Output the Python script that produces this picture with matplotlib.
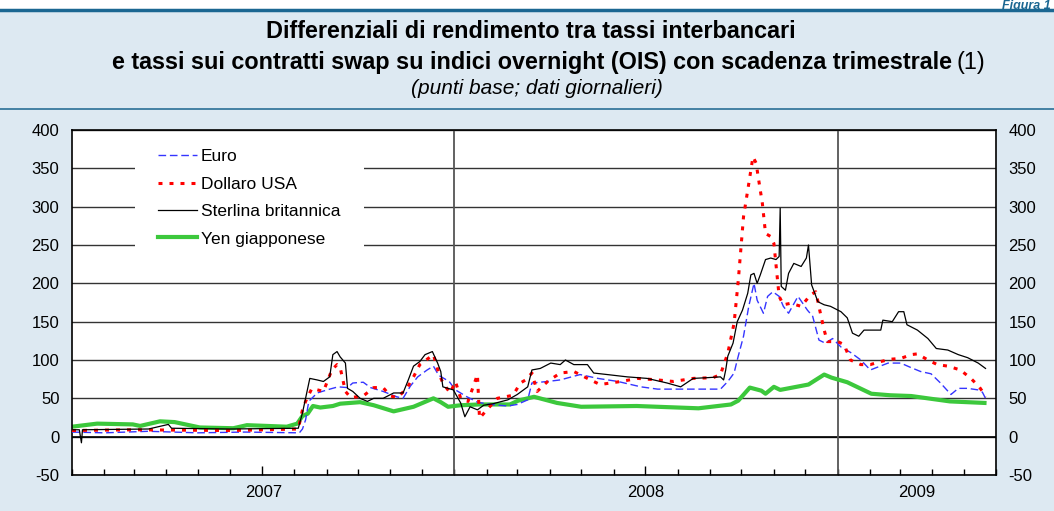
import matplotlib
matplotlib.use('Agg')
import matplotlib.pyplot as plt
import matplotlib.dates as mdates
from matplotlib.patches import Rectangle
from matplotlib.lines import Line2D
import pandas as pd

plt.rcParams['font.family'] = ['Liberation Sans', 'DejaVu Sans']
plt.rcParams['axes.unicode_minus'] = False

# dati (punti base)
euro_dates = ['2007-01-01', '2007-02-01', '2007-03-15', '2007-05-01', '2007-06-15', '2007-08-06',
              '2007-08-09', '2007-08-12', '2007-08-15', '2007-08-23', '2007-09-04', '2007-09-12',
              '2007-09-21', '2007-09-26', '2007-10-06', '2007-10-13', '2007-10-25', '2007-11-07',
              '2007-11-13', '2007-11-20', '2007-11-27', '2007-12-06', '2007-12-12', '2007-12-17',
              '2007-12-27', '2008-01-02', '2008-01-13', '2008-01-23', '2008-02-04', '2008-02-21',
              '2008-03-01', '2008-03-11', '2008-03-15', '2008-03-30', '2008-04-11', '2008-04-30',
              '2008-05-17', '2008-06-05', '2008-06-27', '2008-07-13', '2008-09-11', '2008-09-18',
              '2008-09-24', '2008-09-27', '2008-10-03', '2008-10-08', '2008-10-13', '2008-10-16',
              '2008-10-22', '2008-10-26', '2008-10-31', '2008-11-06', '2008-11-10', '2008-11-15',
              '2008-11-24', '2008-12-03', '2008-12-08', '2008-12-14', '2008-12-20', '2008-12-27',
              '2009-01-04', '2009-01-13', '2009-01-23', '2009-02-01', '2009-02-18', '2009-03-02',
              '2009-03-12', '2009-03-21', '2009-03-31', '2009-04-09', '2009-04-19', '2009-04-26',
              '2009-05-05', '2009-05-15', '2009-05-19', '2009-05-22']
euro_vals = [6, 5, 7, 5, 6, 5,
             10, 22, 46, 57, 62, 65,
             64, 70, 71, 64, 59, 52,
             50, 66, 78, 87, 92, 80,
             72, 61, 52, 45, 42, 40,
             42, 48, 70, 72, 74, 81,
             76, 72, 65, 62, 62, 72,
             83, 100, 131, 170, 200, 178,
             161, 183, 189, 183, 170, 161,
             183, 165, 157, 126, 122, 128,
             117, 110, 100, 87, 96, 96,
             90, 85, 82, 70, 55, 63,
             63, 61, 58, 50]

dollaro_dates = ['2007-01-01', '2007-03-01', '2007-06-01', '2007-08-05', '2007-08-09', '2007-08-12',
                 '2007-08-18', '2007-08-29', '2007-09-06', '2007-09-11', '2007-09-14', '2007-09-19',
                 '2007-09-24', '2007-10-06', '2007-10-16', '2007-10-25', '2007-11-01', '2007-11-08',
                 '2007-11-17', '2007-11-23', '2007-11-29', '2007-12-07', '2007-12-12', '2007-12-17',
                 '2007-12-21', '2007-12-28', '2008-01-02', '2008-01-07', '2008-01-14', '2008-01-23',
                 '2008-01-25', '2008-02-01', '2008-02-11', '2008-02-26', '2008-03-04', '2008-03-09',
                 '2008-03-15', '2008-03-20', '2008-03-30', '2008-04-11', '2008-04-24', '2008-05-07',
                 '2008-05-19', '2008-06-08', '2008-06-24', '2008-07-13', '2008-07-28', '2008-08-16',
                 '2008-09-04', '2008-09-11', '2008-09-18', '2008-09-24', '2008-09-28', '2008-10-03',
                 '2008-10-08', '2008-10-12', '2008-10-15', '2008-10-17', '2008-10-21', '2008-10-24',
                 '2008-10-29', '2008-11-01', '2008-11-06', '2008-11-10', '2008-11-17', '2008-11-27',
                 '2008-12-06', '2008-12-11', '2008-12-16', '2008-12-19', '2008-12-22', '2009-01-01',
                 '2009-01-07', '2009-01-13', '2009-01-23', '2009-02-01', '2009-02-11', '2009-02-20',
                 '2009-03-02', '2009-03-12', '2009-03-18', '2009-03-28', '2009-04-06', '2009-04-16',
                 '2009-04-28', '2009-05-08', '2009-05-16', '2009-05-20', '2009-05-22']
dollaro_vals = [8, 9, 8, 10, 35, 46,
                63, 59, 87, 94, 90, 59,
                51, 53, 64, 64, 53, 51,
                64, 78, 94, 102, 107, 83,
                70, 57, 72, 50, 46, 81,
                24, 35, 50, 54, 70, 74,
                83, 59, 72, 83, 85, 76,
                68, 72, 76, 74, 72, 76,
                77, 81, 109, 148, 204, 287,
                330, 365, 357, 339, 304, 265,
                261, 252, 183, 172, 174, 170,
                185, 189, 157, 139, 124, 124,
                120, 100, 94, 94, 98, 101,
                102, 107, 108, 100, 94, 92,
                87, 76, 65, 57, 52]

sterlina_dates = ['2007-01-01', '2007-01-08', '2007-01-10', '2007-01-11', '2007-03-15', '2007-04-03',
                  '2007-04-06', '2007-06-01', '2007-08-05', '2007-08-09', '2007-08-16', '2007-08-23',
                  '2007-08-29', '2007-09-04', '2007-09-07', '2007-09-11', '2007-09-14', '2007-09-19',
                  '2007-09-21', '2007-09-26', '2007-10-03', '2007-10-10', '2007-10-16', '2007-10-25',
                  '2007-11-04', '2007-11-13', '2007-11-18', '2007-11-23', '2007-11-29', '2007-12-04',
                  '2007-12-11', '2007-12-16', '2007-12-19', '2007-12-21', '2007-12-31', '2008-01-07',
                  '2008-01-11', '2008-01-16', '2008-01-23', '2008-01-29', '2008-02-07', '2008-02-21',
                  '2008-03-01', '2008-03-11', '2008-03-15', '2008-03-23', '2008-04-02', '2008-04-11',
                  '2008-04-16', '2008-04-24', '2008-05-07', '2008-05-13', '2008-05-26', '2008-06-14',
                  '2008-07-03', '2008-07-22', '2008-08-04', '2008-08-16', '2008-08-30', '2008-09-11',
                  '2008-09-14', '2008-09-16', '2008-09-18', '2008-09-23', '2008-09-27', '2008-10-02',
                  '2008-10-07', '2008-10-10', '2008-10-13', '2008-10-16', '2008-10-19', '2008-10-24',
                  '2008-10-29', '2008-11-03', '2008-11-06', '2008-11-07', '2008-11-08', '2008-11-12',
                  '2008-11-15', '2008-11-20', '2008-11-27', '2008-12-02', '2008-12-04', '2008-12-07',
                  '2008-12-13', '2008-12-19', '2008-12-25', '2009-01-04', '2009-01-10', '2009-01-15',
                  '2009-01-21', '2009-01-26', '2009-02-11', '2009-02-13', '2009-02-22', '2009-02-28',
                  '2009-03-05', '2009-03-08', '2009-03-18', '2009-03-28', '2009-04-05', '2009-04-16',
                  '2009-04-26', '2009-05-05', '2009-05-15', '2009-05-22']
sterlina_vals = [9, 9, -8, 9, 10, 16,
                 11, 10, 11, 31, 76, 74,
                 72, 78, 107, 111, 104, 96,
                 63, 59, 50, 46, 50, 50,
                 57, 57, 74, 92, 98, 107,
                 111, 96, 85, 65, 61, 44,
                 26, 39, 35, 41, 43, 48,
                 55, 65, 87, 89, 96, 94,
                 100, 94, 94, 83, 81, 78,
                 76, 70, 65, 76, 77, 78,
                 74, 87, 105, 122, 150, 165,
                 187, 211, 213, 200, 211, 231,
                 233, 231, 235, 298, 196, 191,
                 213, 226, 222, 233, 250, 198,
                 176, 172, 170, 163, 155, 135,
                 131, 139, 139, 152, 150, 163,
                 163, 146, 139, 128, 115, 113,
                 107, 103, 96, 89]

yen_dates = ['2007-01-01', '2007-01-25', '2007-02-28', '2007-03-07', '2007-03-26', '2007-04-09',
             '2007-05-03', '2007-06-04', '2007-06-17', '2007-07-25', '2007-08-04', '2007-08-09',
             '2007-08-14', '2007-08-19', '2007-08-26', '2007-09-07', '2007-09-14', '2007-10-03',
             '2007-10-16', '2007-11-04', '2007-11-23', '2007-12-12', '2007-12-19', '2007-12-26',
             '2008-01-07', '2008-01-25', '2008-02-23', '2008-03-02', '2008-03-17', '2008-04-08',
             '2008-05-01', '2008-06-23', '2008-08-21', '2008-09-21', '2008-09-28', '2008-10-09',
             '2008-10-20', '2008-10-24', '2008-11-01', '2008-11-07', '2008-12-04', '2008-12-19',
             '2008-12-26', '2009-01-10', '2009-02-02', '2009-02-20', '2009-03-12', '2009-04-18',
             '2009-05-21']
yen_vals = [13, 17, 16, 14, 20, 19,
            12, 11, 15, 13, 17, 27,
            30, 40, 38, 40, 43, 45,
            41, 33, 39, 50, 45, 39,
            41, 42, 42, 47, 52, 44,
            39, 40, 37, 42, 47, 64,
            60, 56, 65, 61, 68, 81,
            77, 71, 56, 54, 53, 46,
            44]

anni = [2007, 2008, 2009]
yticks = list(range(-50, 401, 50))

x_min = pd.Timestamp('2007-01-01')
x_max = pd.Timestamp('2009-06-01')

fig = plt.figure(figsize=(10.54, 5.11), dpi=100)
fig.patch.set_facecolor('#dde9f2')

# fascia bianca in alto e linee blu
fig.add_artist(Rectangle((0, 1 - 9 / 511), 1, 9 / 511, transform=fig.transFigure,
                         facecolor='white', edgecolor='none'))
fig.add_artist(Line2D([0, 1], [1 - 10 / 511] * 2, transform=fig.transFigure, color='#1b6792', lw=2.5))
fig.add_artist(Line2D([0, 1], [1 - 109 / 511] * 2, transform=fig.transFigure, color='#2a6f96', lw=1.2))
fig.text(0.997, 1.0, 'Figura 1', ha='right', va='top', fontsize=9,
         fontweight='bold', style='italic', color='#1b6792')

# titolo
fig.text(531 / 1054, 1 - 32 / 511, 'Differenziali di rendimento tra tassi interbancari',
         ha='center', va='center', fontsize=16.8, fontweight='bold')
t2 = fig.text(532 / 1054, 1 - 62 / 511,
              'e tassi sui contratti swap su indici overnight (OIS) con scadenza trimestrale',
              ha='center', va='center', fontsize=16.8, fontweight='bold')
renderer = fig.canvas.get_renderer()
bb = t2.get_window_extent(renderer)
fig.text((bb.x1 + 5) / fig.bbox.width, 1 - 62 / 511, '(1)', ha='left', va='center', fontsize=16.8)
fig.text(537 / 1054, 1 - 89 / 511, '(punti base; dati giornalieri)', ha='center', va='center',
         fontsize=15, style='italic')

ax = fig.add_axes([72 / 1054, 1 - 475 / 511, 924 / 1054, 345 / 511])
ax.set_facecolor('white')
ax.set_axisbelow(True)

ax.plot(pd.to_datetime(euro_dates), euro_vals, color='#3535ff', lw=1.0,
        dashes=(5.5, 2.7), label='Euro', zorder=3)
ax.plot(pd.to_datetime(dollaro_dates), dollaro_vals, color='#ff0000', lw=2.2,
        dashes=(1.3, 2.3), label='Dollaro USA', zorder=3)
ax.plot(pd.to_datetime(sterlina_dates), sterlina_vals, color='black', lw=0.9,
        label='Sterlina britannica', zorder=3)
ax.plot(pd.to_datetime(yen_dates), yen_vals, color='#3cc83c', lw=3,
        label='Yen giapponese', zorder=2.5)

ax.set_xlim(x_min, x_max)
ax.set_ylim(-50, 400)
ax.set_yticks(yticks)
ax.grid(axis='y', color='#333333', lw=1)
ax.axhline(0, color='black', lw=1.2, zorder=1)

for a in anni[1:]:
    ax.axvline(pd.Timestamp(f'{a}-01-01'), color='#555555', lw=1.3, zorder=1.2)

# etichette degli anni al centro del periodo visibile
for a in anni:
    inizio = max(pd.Timestamp(f'{a}-01-01'), x_min)
    fine = min(pd.Timestamp(f'{a + 1}-01-01'), x_max)
    centro = inizio + (fine - inizio) / 2
    ax.text(centro, -0.052, str(a), transform=ax.get_xaxis_transform(),
            ha='center', va='center', fontsize=12)

ax.xaxis.set_major_locator(mdates.MonthLocator(bymonth=7))
ax.xaxis.set_minor_locator(mdates.MonthLocator())
ax.xaxis.set_major_formatter(plt.NullFormatter())
ax.tick_params(axis='x', which='major', direction='in', length=6.5, width=1, color='black')
ax.tick_params(axis='x', which='minor', direction='in', length=4, width=1, color='black')
ax.tick_params(axis='y', which='both', length=0, pad=9, labelsize=12,
               labelleft=True, labelright=True)

for s in ax.spines.values():
    s.set_color('black')
    s.set_linewidth(1.2)

# riquadro bianco dietro la legenda
ax.add_patch(Rectangle((0.068, 0.632), 0.248, 0.338, transform=ax.transAxes,
                       facecolor='white', edgecolor='none', zorder=1.5))
ax.legend(loc='upper left', bbox_to_anchor=(0.093, 0.945), frameon=False, fontsize=12.5,
          handlelength=2.24, handletextpad=0.23, labelspacing=0.71, borderpad=0,
          borderaxespad=0)

fig.savefig('out.png', dpi=100, facecolor=fig.get_facecolor())
